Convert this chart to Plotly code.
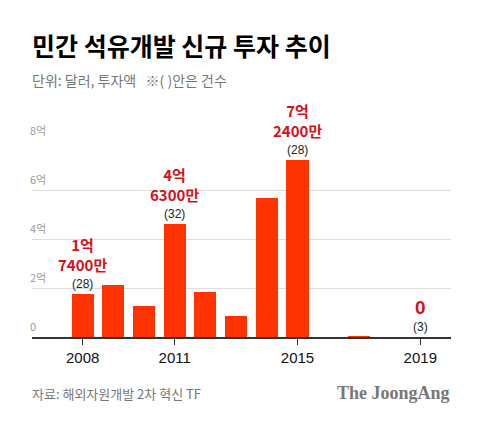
import plotly.graph_objects as go

years = [2008, 2009, 2010, 2011, 2012, 2013, 2014, 2015, 2016, 2017, 2018, 2019]
values = [1.74, 2.12, 1.27, 4.63, 1.84, 0.85, 5.69, 7.24, 0, 0.03, 0, 0]
label_years = [2008, 2011, 2015, 2019]
label_values = [1.74, 4.63, 7.24, 0]
label_amounts = ["1억<br>7400만", "4억<br>6300만", "7억<br>2400만", "0"]
label_counts = ["(28)", "(32)", "(28)", "(3)"]
y_ticks = [0, 2, 4, 6, 8]
y_tick_text = ["0", "2억", "4억", "6억", "8억"]
x_ticks = [2008, 2011, 2015, 2019]

FONT = "Noto Sans CJK KR"
fig = go.Figure()
fig.add_trace(go.Bar(x=years, y=values, width=0.72, marker=dict(color="#ff3300", line=dict(width=0)),
                     hoverinfo="skip"))

for yv, t in zip(y_ticks, y_tick_text):
    fig.add_annotation(x=0, xref="paper", y=yv, yref="y", text=t, showarrow=False,
                       xanchor="left", yanchor="bottom", yshift=1, xshift=-4,
                       font=dict(family=FONT, size=11, color="#999999"))
for x, v, a, c in zip(label_years, label_values, label_amounts, label_counts):
    fig.add_annotation(x=x, y=v, text=c, showarrow=False, yanchor="middle", yshift=10,
                       font=dict(family="Liberation Sans, Arial", size=12, color="#222222"))
    if a == "0":
        fig.add_annotation(x=x, y=v, text="<b>" + a + "</b>", showarrow=False, yanchor="bottom",
                           yshift=17, font=dict(family="Liberation Sans, Arial", size=19, color="#d8101a"))
    else:
        fig.add_annotation(x=x, y=v, text="<b>" + a + "</b>", showarrow=False, yanchor="bottom",
                           yshift=17, font=dict(family=FONT, size=15, color="#d8101a", weight=900))

fig.update_layout(
    width=472, height=426,
    margin=dict(l=24, r=29, t=133, b=97),
    plot_bgcolor="white", paper_bgcolor="white",
    showlegend=False,
    bargap=0,
    xaxis=dict(range=[2006.35, 2020.0], tickvals=x_ticks, ticktext=[str(t) for t in x_ticks],
               ticks="outside", ticklen=6, tickcolor="#333333", tickwidth=1,
               showline=True, linecolor="#333333", linewidth=1.5, showgrid=False, zeroline=False,
               tickfont=dict(family="Liberation Sans, Arial", size=15, color="#111111")),
    yaxis=dict(range=[0, 8], tickvals=y_ticks, showticklabels=False, showgrid=True,
               gridcolor="#dddddd", gridwidth=1, zeroline=False, showline=False),
)

title_items = [
    dict(text="<b>민간 석유개발 신규 투자 추이</b>", y=45, size=25, color="#000000", weight=900),
    dict(text="단위: 달러, 투자액   ※( )안은 건수", y=80, size=14, color="#777777", weight=400),
    dict(text="자료: 해외자원개발 2차 혁신 TF", y=393, size=13, color="#777777", weight=400),
]
for it in title_items:
    fig.add_annotation(x=(30 - 32) / 419, xref="paper", y=(434 - it["y"] - 97) / 196, yref="paper",
                       text=it["text"], showarrow=False, xanchor="left", yanchor="middle",
                       font=dict(family=FONT, size=it["size"], color=it["color"], weight=it["weight"]))
fig.add_annotation(x=(452 - 32) / 419, xref="paper", y=(434 - 393 - 97) / 196, yref="paper",
                   text="<b>The JoongAng</b>", showarrow=False, xanchor="right", yanchor="middle",
                   font=dict(family="Liberation Serif", size=18, color="#777777"))

fig.write_html("out.html")
